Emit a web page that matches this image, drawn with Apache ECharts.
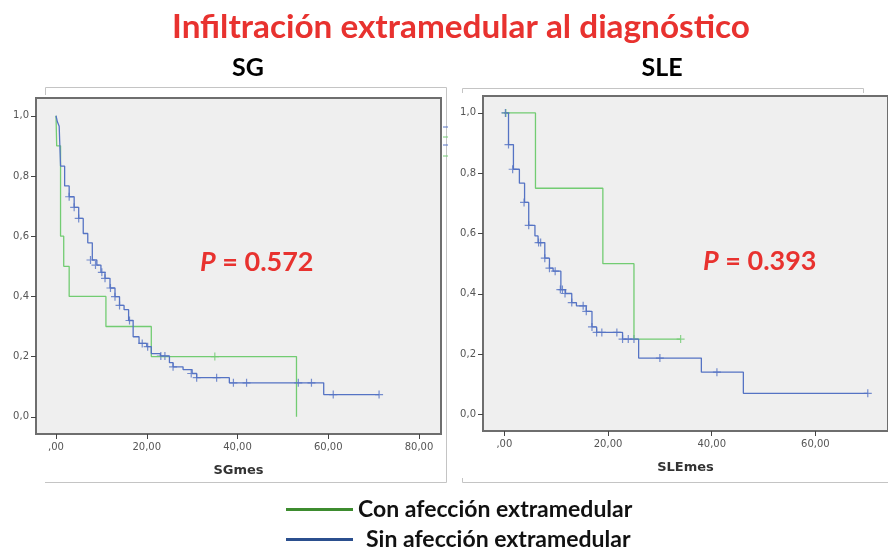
<!DOCTYPE html>
<html>
<head>
<meta charset="utf-8">
<script src="https://cdn.jsdelivr.net/npm/echarts@6/dist/echarts.min.js"></script>
<style>
  html, body { margin: 0; padding: 0; background: #fff; }
  #chart { width: 888px; height: 548px; }
</style>
</head>
<body>
<div id="chart"></div>
<script>
// curvas de Kaplan-Meier: [meses, supervivencia]
const sgConSteps = [[0, 1], [0.15, 0.9], [1.0, 0.6], [1.7, 0.5], [2.9, 0.4], [11, 0.3], [21, 0.2], [53, 0.0]];
const sgConCensored = [[35, 0.2]];
const sgSinSteps = [
  [0, 1], [0.3, 0.98], [0.7, 0.965], [1.0, 0.833], [1.9, 0.767], [2.9, 0.731], [4.0, 0.696],
  [5.0, 0.659], [6.0, 0.609], [7.0, 0.578], [8.0, 0.521], [9.0, 0.504], [9.9, 0.48], [10.8, 0.46],
  [11.9, 0.428], [13.0, 0.399], [14.0, 0.37], [15.0, 0.356], [16.0, 0.32], [17.0, 0.266],
  [18.3, 0.244], [20.0, 0.233], [21.0, 0.21], [23.0, 0.202], [25.0, 0.18], [25.8, 0.166],
  [28.0, 0.157], [30.0, 0.144], [31.0, 0.13], [38.2, 0.113], [59.0, 0.074], [71.2, 0.074]
];
const sgSinCensored = [
  [2.9, 0.731], [4.0, 0.696], [5.0, 0.659], [7.6, 0.521], [8.7, 0.504], [10.1, 0.48], [10.8, 0.46],
  [12.0, 0.428], [13.0, 0.399], [14.0, 0.37], [16.2, 0.32], [19.0, 0.244], [20.2, 0.233],
  [23.1, 0.202], [24.0, 0.202], [25.8, 0.166], [29.8, 0.144], [31.0, 0.13], [35.4, 0.13],
  [39.1, 0.113], [42, 0.113], [53.4, 0.113], [56.3, 0.113], [61.1, 0.074], [71.2, 0.074]
];
const sleConSteps = [[0, 1], [6, 0.75], [19, 0.5], [25, 0.25], [34, 0.25]];
const sleConCensored = [[0.3, 1], [34, 0.25]];
const sleSinSteps = [
  [0, 1], [0.8, 0.895], [1.75, 0.813], [2.9, 0.767], [3.9, 0.703], [4.7, 0.627], [5.9, 0.592],
  [6.5, 0.57], [7.8, 0.518], [8.7, 0.485], [9.4, 0.475], [10.9, 0.414], [11.8, 0.401],
  [13.0, 0.371], [13.9, 0.36], [15.8, 0.342], [16.9, 0.29], [17.8, 0.272], [22.8, 0.25],
  [25.9, 0.187], [38.0, 0.14], [46.1, 0.07], [70.1, 0.07]
];
const sleSinCensored = [
  [0.2, 1], [0.8, 0.895], [1.6, 0.813], [3.8, 0.703], [4.7, 0.627], [6.6, 0.57], [7.0, 0.57],
  [7.8, 0.518], [8.7, 0.485], [9.8, 0.475], [10.8, 0.414], [11.2, 0.414], [11.7, 0.401],
  [13.0, 0.371], [15.2, 0.36], [15.8, 0.342], [16.9, 0.29], [17.8, 0.272], [18.8, 0.272],
  [21.7, 0.272], [22.8, 0.25], [23.9, 0.25], [25.0, 0.25], [30, 0.187], [41, 0.14], [70.1, 0.07]
];
const yTicks = [0, 0.2, 0.4, 0.6, 0.8, 1.0];
const sgXTicks = [0, 20, 40, 60, 80];
const sleXTicks = [0, 20, 40, 60];

const CON = "Con afección extramedular";
const SIN = "Sin afección extramedular";
const GREEN = "#72cc72";
const BLUE = "#5573c4";
const AXIS = "#6e6e6e";
const RED = "#e8322f";
const CROSS = "path://M-0.6,-4H0.6V-0.6H4V0.6H0.6V4H-0.6V0.6H-4V-0.6H-0.6Z";

const chart = echarts.init(document.getElementById("chart"));

function kmSeries(name, steps, censored, color, idx) {
    return [
        {
            name: name, type: "line", step: "end", xAxisIndex: idx, yAxisIndex: idx,
            data: steps, showSymbol: false, silent: true,
            lineStyle: { color: color, width: 1.3 }, itemStyle: { color: color }
        },
        {
            name: name, type: "scatter", xAxisIndex: idx, yAxisIndex: idx,
            data: censored, symbol: CROSS, symbolSize: 8, silent: true,
            itemStyle: { color: color }
        }
    ];
}

function xAxis(idx, min, max, ticks, name) {
    return {
        gridIndex: idx, type: "value", min: min, max: max,
        name: name, nameLocation: "middle", nameGap: 30,
        nameTextStyle: { fontFamily: "DejaVu Sans", fontWeight: "bold", fontSize: 13, color: "#333" },
        axisLine: { onZero: false, lineStyle: { color: AXIS, width: 2 } },
        axisTick: { customValues: ticks, length: 5, lineStyle: { color: "#444" } },
        axisLabel: {
            customValues: ticks, margin: 8, color: "#555", fontFamily: "DejaVu Sans", fontSize: 10,
            formatter: v => v === 0 ? ",00" : v.toFixed(2).replace(".", ",")
        },
        splitLine: { show: false }
    };
}

function yAxis(idx, min, max) {
    return {
        gridIndex: idx, type: "value", min: min, max: max,
        axisLine: { onZero: false, lineStyle: { color: AXIS, width: 2 } },
        axisTick: { customValues: yTicks, length: 5, lineStyle: { color: "#444" } },
        axisLabel: {
            customValues: yTicks, margin: 7, color: "#555", fontFamily: "DejaVu Sans", fontSize: 10,
            formatter: v => v.toFixed(1).replace(".", ",")
        },
        splitLine: { show: false }
    };
}

function legendBox(name, color, top, pad) {
    return {
        orient: "vertical", left: 281, top: top, icon: "rect",
        itemWidth: 67, itemHeight: 3, itemGap: 0, selectedMode: false,
        textStyle: { fontFamily: "Lato", fontWeight: "bold", fontSize: 23, lineHeight: 20, color: "#111", padding: [0, 0, 0, pad] },
        data: [{ name: name, itemStyle: { color: color } }]
    };
}

// ancho del título ajustado al original (fuente más ancha que Calibri)
const TITLE = "Infiltración extramedular al diagnóstico";
const ctx = document.createElement("canvas").getContext("2d");
ctx.font = "bold 32px Lato";
const titleScale = 578 / ctx.measureText(TITLE).width;

function frame(points) {
    return {
        type: "polyline", silent: true,
        shape: { points: points },
        style: { stroke: "#c4c4c4", lineWidth: 1, fill: null }
    };
}

const option = {
    animation: false,
    backgroundColor: "#fff",
    grid: [
        { left: 36, top: 98, width: 405, height: 336, show: true, backgroundColor: "#efefef", borderColor: AXIS, borderWidth: 2 },
        { left: 483, top: 96, width: 417, height: 335, show: true, backgroundColor: "#efefef", borderColor: AXIS, borderWidth: 2 }
    ],
    xAxis: [xAxis(0, -4.41, 84.85, sgXTicks, "SGmes"), xAxis(1, -4.12, 74, sleXTicks, "SLEmes")],
    yAxis: [yAxis(0, -0.057, 1.059), yAxis(1, -0.055, 1.056)],
    legend: [
        legendBox(CON, "#3d8c2f", 493, 0),
        legendBox(SIN, "#2b4f8e", 523, 8)
    ],
    series: [].concat(
        kmSeries(CON, sgConSteps, sgConCensored, GREEN, 0),
        kmSeries(SIN, sgSinSteps, sgSinCensored, BLUE, 0),
        kmSeries(CON, sleConSteps, sleConCensored, GREEN, 1),
        kmSeries(SIN, sleSinSteps, sleSinCensored, BLUE, 1)
    ),
    graphic: [
        {
            type: "text", x: 461, y: 28, scaleX: titleScale, silent: true,
            style: { text: TITLE, fill: RED, font: "bold 32px Lato", textAlign: "center", textVerticalAlign: "middle" }
        },
        {
            type: "text", x: 248, y: 68, silent: true,
            style: { text: "SG", fill: "#000", font: "bold 25px Lato", textAlign: "center", textVerticalAlign: "middle" }
        },
        {
            type: "text", x: 662, y: 68, silent: true,
            style: { text: "SLE", fill: "#000", font: "bold 25px Lato", textAlign: "center", textVerticalAlign: "middle" }
        },
        {
            type: "text", x: 200, y: 262, silent: true,
            style: {
                text: "{i|P} = 0.572", fill: RED, font: "bold 27px Lato", textVerticalAlign: "middle",
                rich: { i: { fontStyle: "italic", fontWeight: "bold", fontSize: 27, fontFamily: "Lato", fill: RED } }
            }
        },
        {
            type: "text", x: 703, y: 261, silent: true,
            style: {
                text: "{i|P} = 0.393", fill: RED, font: "bold 27px Lato", textVerticalAlign: "middle",
                rich: { i: { fontStyle: "italic", fontWeight: "bold", fontSize: 27, fontFamily: "Lato", fill: RED } }
            }
        },
        // marcos exteriores del visor de SPSS
        frame([[45.5, 95], [45.5, 87.5], [446.5, 87.5], [446.5, 482.5], [45, 482.5]]),
        frame([[462.5, 93], [462.5, 88.5], [863.5, 88.5], [863.5, 93]]),
        frame([[462.5, 478], [462.5, 482.5], [888, 482.5]]),
        // restos de la leyenda original de SPSS
        { type: "line", silent: true, shape: { x1: 443, y1: 127, x2: 448, y2: 127 }, style: { stroke: BLUE, lineWidth: 1 } },
        { type: "line", silent: true, shape: { x1: 443, y1: 137, x2: 448, y2: 137 }, style: { stroke: GREEN, lineWidth: 1 } },
        { type: "line", silent: true, shape: { x1: 443, y1: 145, x2: 448, y2: 145 }, style: { stroke: BLUE, lineWidth: 1 } },
        { type: "line", silent: true, shape: { x1: 443, y1: 156, x2: 448, y2: 156 }, style: { stroke: GREEN, lineWidth: 1 } }
    ]
};

chart.setOption(option);
</script>
</body>
</html>
